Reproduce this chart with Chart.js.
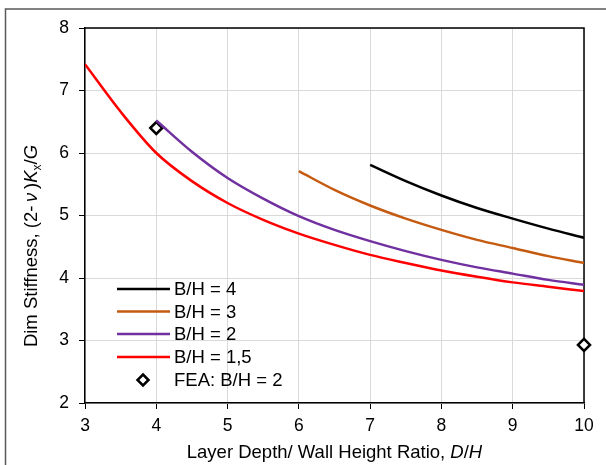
<!DOCTYPE html>
<html>
<head>
<meta charset="utf-8">
<script src="https://cdn.jsdelivr.net/npm/chart.js@4/dist/chart.umd.min.js"></script>
<style>
  html, body { margin: 0; padding: 0; background: #fff; }
  canvas { display: block; }
</style>
</head>
<body>
<canvas id="c" width="606" height="465"></canvas>
<script>
// Dimensionless stiffness vs. layer depth / wall height ratio
const dh15 = [3, 3.5, 4, 4.5, 5, 5.5, 6, 6.5, 7, 7.5, 8, 8.5, 9, 9.5, 10];
const stiff15 = [7.42, 6.66, 6.0, 5.55, 5.2, 4.93, 4.71, 4.53, 4.37, 4.24, 4.12, 4.02, 3.93, 3.86, 3.79];

const dh2 = [4, 4.5, 5, 5.5, 6, 6.5, 7, 7.5, 8, 8.5, 9, 9.5, 10];
const stiff2 = [6.52, 6.02, 5.6, 5.27, 4.99, 4.77, 4.59, 4.43, 4.29, 4.17, 4.07, 3.97, 3.89];

const dh3 = [6, 6.5, 7, 7.5, 8, 8.5, 9, 9.5, 10];
const stiff3 = [5.71, 5.41, 5.16, 4.95, 4.77, 4.61, 4.48, 4.35, 4.24];

const dh4 = [7, 7.5, 8, 8.5, 9, 9.5, 10];
const stiff4 = [5.81, 5.55, 5.32, 5.12, 4.95, 4.79, 4.645];

const feaDH = [4, 10];
const feaStiff = [6.4, 2.93];

const seriesLabels = ['B/H = 4', 'B/H = 3', 'B/H = 2', 'B/H = 1,5', 'FEA: B/H = 2'];
const seriesColors = ['#000000', '#C55A11', '#7030A0', '#FF0000', '#000000'];

const FONT = '"Liberation Sans", Arial, sans-serif';
const TEXT_SIZE = 18.5;
const TICK_SIZE = 17.5;

function pts(xs, ys) { return xs.map((x, i) => ({ x: x, y: ys[i] })); }

function lineSet(i, xs, ys) {
  return {
    label: seriesLabels[i],
    data: pts(xs, ys),
    borderColor: seriesColors[i],
    backgroundColor: seriesColors[i],
    borderWidth: 2.5,
    pointRadius: 0,
    showLine: true,
    cubicInterpolationMode: 'monotone',
    fill: false
  };
}

// draw a run of text pieces (some italic / subscript) centred on (0,0)
function richText(ctx, parts, size) {
  const fnt = p => (p.it ? 'italic ' : '') + (p.sub ? Math.round(size * 0.65) : size) + 'px ' + FONT;
  let w = 0;
  parts.forEach(p => { ctx.font = fnt(p); w += ctx.measureText(p.t).width; });
  let x = -w / 2;
  parts.forEach(p => {
    ctx.font = fnt(p);
    ctx.fillText(p.t, x, p.sub ? size * 0.3 : 0);
    x += ctx.measureText(p.t).width;
  });
}

// Outer frame, full plot border, axis titles and in-plot legend
const decor = {
  id: 'decor',
  beforeDatasetsDraw(chart) {
    const ctx = chart.ctx;
    const a = chart.chartArea;
    ctx.save();
    ctx.strokeStyle = '#000';
    ctx.lineWidth = 1.5;
    ctx.beginPath();
    ctx.moveTo(a.left, a.top);
    ctx.lineTo(a.right, a.top);
    ctx.lineTo(a.right, a.bottom);
    ctx.stroke();
    ctx.restore();
  },
  afterDraw(chart) {
    const ctx = chart.ctx;
    const a = chart.chartArea;
    ctx.save();
    // chart frame
    ctx.strokeStyle = '#595959';
    ctx.lineWidth = 1.5;
    ctx.beginPath();
    ctx.moveTo(5.5, 470);
    ctx.lineTo(5.5, 9);
    ctx.lineTo(610, 9);
    ctx.stroke();
    ctx.restore();

    // x-axis title
    ctx.save();
    ctx.fillStyle = '#000';
    ctx.textBaseline = 'alphabetic';
    ctx.textAlign = 'left';
    ctx.translate((a.left + a.right) / 2, 458);
    richText(ctx, [
      { t: 'Layer Depth/ Wall Height Ratio, ' },
      { t: 'D', it: true },
      { t: '/' },
      { t: 'H', it: true }
    ], TEXT_SIZE);
    ctx.restore();

    // y-axis title
    ctx.save();
    ctx.fillStyle = '#000';
    ctx.textBaseline = 'middle';
    ctx.textAlign = 'left';
    ctx.translate(32, 246);
    ctx.rotate(-Math.PI / 2);
    richText(ctx, [
      { t: 'Dim Stiffness, (2-\u2009' },
      { t: '\u03BD', it: true },
      { t: '\u2009)' },
      { t: 'K', it: true },
      { t: 'x', sub: true },
      { t: '/' },
      { t: 'G', it: true }
    ], TEXT_SIZE);
    ctx.restore();

    // legend
    ctx.save();
    ctx.font = TEXT_SIZE + 'px ' + FONT;
    ctx.textBaseline = 'middle';
    ctx.textAlign = 'left';
    const ds = chart.data.datasets;
    const rowY = [289, 311.5, 334, 357, 380];
    ds.forEach((d, i) => {
      const y = rowY[i];
      ctx.strokeStyle = d.borderColor;
      if (d.showLine) {
        ctx.lineWidth = 2.5;
        ctx.beginPath();
        ctx.moveTo(117, y);
        ctx.lineTo(170, y);
        ctx.stroke();
      } else {
        ctx.fillStyle = '#fff';
        ctx.lineWidth = 2.5;
        const r = 5.5;
        ctx.beginPath();
        ctx.moveTo(143, y - r);
        ctx.lineTo(143 + r, y);
        ctx.lineTo(143, y + r);
        ctx.lineTo(143 - r, y);
        ctx.closePath();
        ctx.fill();
        ctx.stroke();
      }
      ctx.fillStyle = '#000';
      ctx.fillText(d.label, 174, y + 1);
    });
    ctx.restore();
  }
};

new Chart(document.getElementById('c'), {
  type: 'scatter',
  data: {
    datasets: [
      lineSet(0, dh4, stiff4),
      lineSet(1, dh3, stiff3),
      lineSet(2, dh2, stiff2),
      lineSet(3, dh15, stiff15),
      {
        label: seriesLabels[4],
        data: pts(feaDH, feaStiff),
        showLine: false,
        pointStyle: 'rectRot',
        pointRadius: 6,
        pointBorderWidth: 2.5,
        borderColor: seriesColors[4],
        backgroundColor: '#ffffff',
        pointBackgroundColor: '#ffffff',
        pointBorderColor: seriesColors[4],
        clip: false
      }
    ]
  },
  options: {
    responsive: false,
    animation: false,
    layout: { padding: { top: 28, right: 22, left: 0, bottom: 0 } },
    plugins: {
      legend: { display: false },
      tooltip: { enabled: false }
    },
    scales: {
      x: {
        type: 'linear',
        min: 3,
        max: 10,
        ticks: { stepSize: 1, color: '#000', font: { family: FONT, size: TICK_SIZE }, padding: 7, maxRotation: 0 },
        grid: { color: '#d9d9d9', lineWidth: 1, tickLength: 6, tickColor: '#000' },
        border: { color: '#000', width: 1.5 },
        afterFit(s) { s.height = 62; }
      },
      y: {
        type: 'linear',
        min: 2,
        max: 8,
        ticks: { stepSize: 1, color: '#000', font: { family: FONT, size: TICK_SIZE }, padding: 10 },
        grid: { color: '#d9d9d9', lineWidth: 1, tickLength: 6, tickColor: '#000' },
        border: { color: '#000', width: 1.5 },
        afterFit(s) { s.width = 85; }
      }
    }
  },
  plugins: [decor]
});
</script>
</body>
</html>
